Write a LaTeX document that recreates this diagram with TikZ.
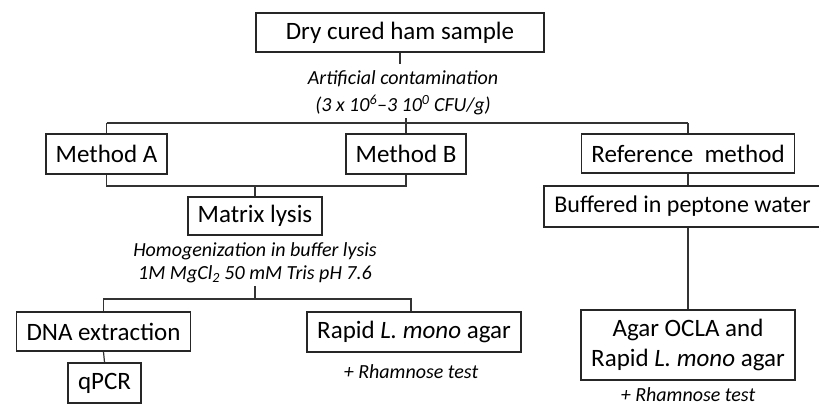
\documentclass[tikz,border=0pt]{standalone}
\usepackage{fontspec}
\setmainfont{Carlito}
\begin{document}
\begin{tikzpicture}[x=1pt,y=-1pt,
  box/.style={draw=black!85, line width=1.8pt, font=\fontsize{25}{30}\selectfont,
    inner xsep=10pt, inner ysep=0pt, minimum height=39pt, anchor=center, align=center},
  note/.style={font=\fontsize{20}{24}\selectfont\itshape, inner sep=0pt},
  conn/.style={draw=black!80, line width=1.2pt}]
\useasboundingbox (0,0) rectangle (819,406);

\node[box, minimum width=288pt] (ham) at (400,32.5) {Dry cured ham sample};
\node[note] (art1) at (403,79) {Artificial contamination};
\node[note] (art2) at (403,105) {(3 x 10\textsuperscript{6}–3 10\textsuperscript{0} CFU/g)};

\node[box, minimum height=40pt] (mA) at (106.5,154) {Method A};
\node[box, minimum height=40pt] (mB) at (406,154) {Method B};
\node[box] (ref) at (688,153.5) {Reference\ \ method};
\node[box, minimum height=41pt, font=\fontsize{24}{29}\selectfont] (buf) at (682.5,206.5) {Buffered in peptone water};
\node[box, minimum height=70pt] (agar) at (688,345) {Agar OCLA and\\Rapid \textit{L. mono} agar};
\node[note] (rh2) at (688,395) {+ Rhamnose test};

\node[box, minimum height=38pt] (mx) at (255,216) {Matrix lysis};
\node[note] (hom1) at (255,251) {Homogenization in buffer lysis};
\node[note] (hom2) at (255,274) {1M MgCl\textsubscript{2} 50 mM Tris pH 7.6};

\node[box] (dna) at (103.5,331.5) {DNA extraction};
\node[box, minimum height=40pt] (rapid) at (414,332) {Rapid \textit{L. mono} agar};
\node[box, minimum height=40pt] (qpcr) at (104.5,383) {qPCR};
\node[note] (rh1) at (411,372) {+ Rhamnose test};

\coordinate (j1) at (403,123);
\coordinate (j2) at (255,186);
\coordinate (j3) at (255,299);

% top
\draw[conn] (ham.south) -- ++(0,11);
\draw[conn] (j1 -| mA.north) -- (j1 -| ref.north);
\draw[conn] (j1 -| mA.north) -- (mA.north);
\draw[conn] (mB.north |- art2.south) ++(0,3) -- (mB.north);
\draw[conn] (j1 -| ref.north) -- (ref.north);
% method A/B join
\draw[conn] (mA.south) -- (j2 -| mA.south) -- (j2 -| mB.south) -- (mB.south);
\draw[conn] (j2) -- (mx.north);
% lysis branch
\draw[conn] (hom2.south) ++(0,3) -- (j3);
\draw[conn] (dna.north) -- (j3 -| dna.north) -- (j3 -| rh1.north) -- (rapid.north -| rh1.north);
\draw[conn] (dna.south) -- (qpcr.north);
% reference branch
\draw[conn] (ref.south) -- (ref.south |- buf.north);
\draw[conn] (ref.south |- buf.south) -- (agar.north);
\end{tikzpicture}
\end{document}
